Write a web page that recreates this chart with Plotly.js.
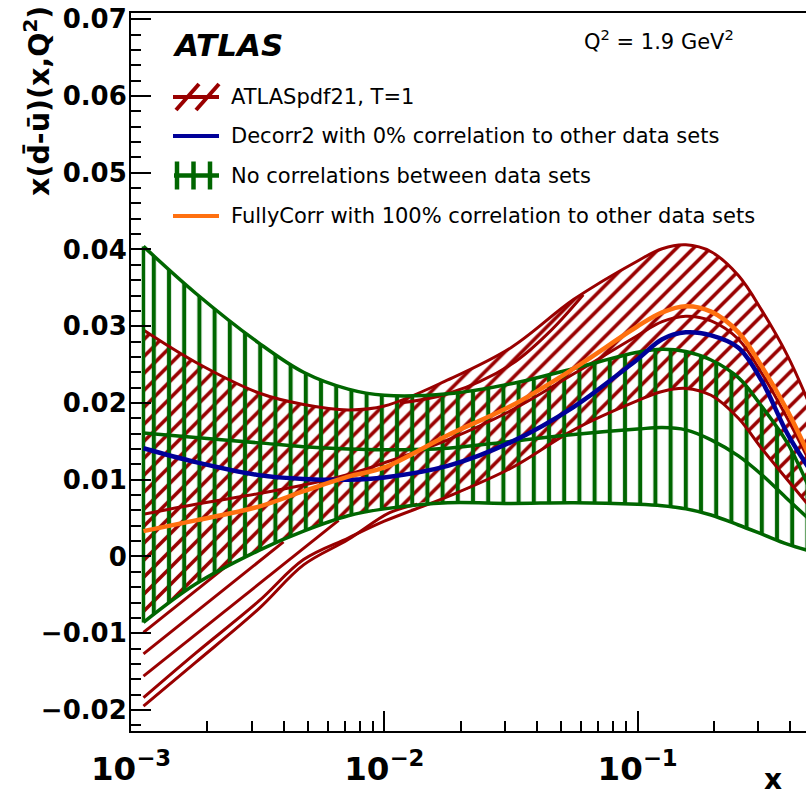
<!DOCTYPE html>
<html><head><meta charset="utf-8">
<script src="https://cdn.plot.ly/plotly-3.0.1.min.js"></script>
<style>html,body{margin:0;padding:0;background:#fff}</style>
</head><body><div id="chart" style="width:806px;height:800px"></div>
<script>
// ---------------- data ----------------
const X       = [0.00112, 0.0018, 0.0032, 0.0048, 0.0072, 0.01, 0.0178, 0.0316, 0.056, 0.1, 0.125, 0.155, 0.195, 0.25, 0.31, 0.39, 0.47];
// "No correlations between data sets" band (green)
const G_up    = [0.0404, 0.0343, 0.0278, 0.0240, 0.0218, 0.0210, 0.0212, 0.0225, 0.0245, 0.0266, 0.0270, 0.0267, 0.0256, 0.0233, 0.0195, 0.0148, 0.0093];
const G_mid   = [0.0161, 0.0155, 0.0148, 0.0143, 0.0140, 0.0139, 0.0141, 0.0150, 0.0159, 0.0166, 0.0168, 0.0165, 0.0152, 0.0131, 0.0106, 0.0075, 0.0050];
const G_low   = [-0.0086, -0.0036, 0.0008, 0.0033, 0.0053, 0.0062, 0.0070, 0.0069, 0.0070, 0.0068, 0.0066, 0.0062, 0.0054, 0.0041, 0.0029, 0.0016, 0.0008];
// Decorr2 (blue) and FullyCorr (orange)
const BLUE_Y  = [0.0141, 0.0123, 0.0106, 0.0101, 0.0100, 0.0103, 0.0118, 0.0149, 0.0195, 0.0257, 0.0283, 0.0292, 0.0288, 0.0272, 0.0228, 0.0160, 0.0117];
const ORANGE_Y= [0.0033, 0.0047, 0.0065, 0.0085, 0.0104, 0.0116, 0.0158, 0.0196, 0.0245, 0.0300, 0.0318, 0.0326, 0.0319, 0.0292, 0.0247, 0.0190, 0.0135];
// ATLASpdf21, T=1 (red)
const R_up    = [0.0295, 0.0253, 0.0213, 0.0198, 0.0191, 0.0196, 0.0230, 0.0272, 0.0335, 0.0385, 0.0401, 0.0406, 0.0397, 0.0366, 0.0320, 0.0262, 0.0203];
const R_mid   = [0.0055, 0.0068, 0.0082, 0.0093, 0.0107, 0.0122, 0.0152, 0.0190, 0.0238, 0.0288, 0.0306, 0.0313, 0.0307, 0.0283, 0.0238, 0.0180, 0.0128];
const R_low   = [-0.0184, -0.0126, -0.0058, -0.0004, 0.0024, 0.0046, 0.0078, 0.0115, 0.0165, 0.0203, 0.0215, 0.0219, 0.0210, 0.0180, 0.0140, 0.0100, 0.0068];
const R_up2_x = [0.0115, 0.0178, 0.0316, 0.045, 0.061];
const R_up2_y = [0.0200, 0.0212, 0.0250, 0.0293, 0.0341];
const R_low2_x= [0.00112, 0.0018, 0.0032, 0.0048, 0.0072, 0.0105, 0.0135];
const R_low2_y= [-0.0195, -0.0138, -0.0068, -0.0011, 0.0022, 0.0057, 0.0068];
const F1_x = [0.00112, 0.0025], F1_y = [-0.0099, -0.0007];
const F2_x = [0.00112, 0.0040], F2_y = [-0.0127, 0.0019];
const F3_x = [0.00112, 0.0066], F3_y = [-0.0156, 0.0047];

const LEGEND_TEXT = ['ATLASpdf21, T=1', 'Decorr2 with 0% correlation to other data sets',
                     'No correlations between data sets', 'FullyCorr with 100% correlation to other data sets'];
const X_TITLE = 'x';
const Y_TITLE = 'x(d\u0304-\u016B)(x,Q<sup>2</sup>)';

// ---------------- styles ----------------
const RED = '#990000', GREEN = '#006600', BLUE = '#000099', ORANGE = '#ff7010';
const FONT = 'DejaVu Sans';
const hatchLow = X.map((_, i) => Math.max(G_low[i], R_low[i]));

function ln(x, y, color, w) {
  return {x, y, type: 'scatter', mode: 'lines', line: {color, width: w, shape: 'spline', smoothing: 1},
          showlegend: false, hoverinfo: 'skip'};
}
const traces = [];
traces.push(ln(X, hatchLow, RED, 0));
traces.push(Object.assign(ln(X, R_up, RED, 0), {fill: 'tonexty', fillcolor: 'rgba(0,0,0,0)',
  fillpattern: {shape: '/', size: 12, solidity: 0.3, fgcolor: RED, bgcolor: 'rgba(0,0,0,0)'}}));
traces.push(ln(X, G_low, GREEN, 0));
traces.push(Object.assign(ln(X, G_up, GREEN, 0), {fill: 'tonexty', fillcolor: 'rgba(0,0,0,0)',
  fillpattern: {shape: '|', size: 15.2, solidity: 0.27, fgcolor: GREEN, bgcolor: 'rgba(0,0,0,0)'}}));
// red boundary lines
traces.push(ln(X, R_up, RED, 3));
traces.push(ln(R_up2_x, R_up2_y, RED, 3));
traces.push(ln(X, R_mid, RED, 3));
traces.push(ln(X, R_low, RED, 3));
traces.push(ln(R_low2_x, R_low2_y, RED, 3));
traces.push(ln(F1_x, F1_y, RED, 3));
traces.push(ln(F2_x, F2_y, RED, 3));
traces.push(ln(F3_x, F3_y, RED, 3));
// green lines
traces.push(ln(X, G_up, GREEN, 3.5));
traces.push(ln(X, G_mid, GREEN, 3.5));
traces.push(ln(X, G_low, GREEN, 3.5));
traces.push(ln([X[0], X[0]], [G_low[0], G_up[0]], GREEN, 3.5));
// central curves
traces.push(ln(X, BLUE_Y, BLUE, 4.5));
traces.push(ln(X, ORANGE_Y, ORANGE, 4.5));

// pixel -> paper helpers for annotation / legend placement
const L = 131, T = 13, W = 675, H = 718;
const px = v => (v - L) / W, py = v => (T + H - v) / H;

function seg(x0, y0, x1, y1, color, w) {
  return {type: 'line', xref: 'paper', yref: 'paper', x0: px(x0), y0: py(y0), x1: px(x1), y1: py(y1),
          line: {color, width: w}};
}
const rows = [97, 136, 175.5, 216];
const shapes = [
  seg(173, rows[0], 219, rows[0], RED, 4),
  seg(176, rows[0] + 13, 199, rows[0] - 13, RED, 4),
  seg(196, rows[0] + 13, 219, rows[0] - 13, RED, 4),
  seg(173, rows[1], 219, rows[1], BLUE, 4),
  seg(174, rows[2], 219, rows[2], GREEN, 4.5),
  seg(177, rows[2] - 14, 177, rows[2] + 14, GREEN, 4.5),
  seg(193.5, rows[2] - 14, 193.5, rows[2] + 14, GREEN, 4.5),
  seg(210, rows[2] - 14, 210, rows[2] + 14, GREEN, 4.5),
  seg(173, rows[3], 219, rows[3], ORANGE, 4)
];
const annotations = LEGEND_TEXT.map((t, i) => ({
  text: t, xref: 'paper', yref: 'paper', x: px(229), y: py(rows[i]), xanchor: 'left', yanchor: 'middle',
  showarrow: false, font: {family: FONT, size: 21, color: '#000'}
}));
annotations.push({text: 'ATLAS', xref: 'paper', yref: 'paper', x: px(170), y: py(45), xanchor: 'left', yanchor: 'middle',
  showarrow: false, font: {family: FONT, size: 31, color: '#000', weight: 'bold', style: 'italic'}});
annotations.push({text: 'Q<sup>2</sup> = 1.9 GeV<sup>2</sup>', xref: 'paper', yref: 'paper', x: px(582), y: py(40),
  xanchor: 'left', yanchor: 'middle', showarrow: false, font: {family: FONT, size: 21, color: '#000'}});
annotations.push({text: X_TITLE, xref: 'paper', yref: 'paper', x: px(784), y: py(798), xanchor: 'right', yanchor: 'bottom',
  showarrow: false, font: {family: FONT, size: 28, color: '#000', weight: 'bold'}});
annotations.push({text: Y_TITLE, xref: 'paper', yref: 'paper', x: px(37), y: py(4), xanchor: 'center', yanchor: 'top',
  textangle: -90, showarrow: false, font: {family: FONT, size: 28.5, color: '#000', weight: 'bold'}});

const tickfont = {family: FONT, size: 26, color: '#000', weight: 'bold'};
const layout = {
  width: 806, height: 800,
  margin: {l: L, r: 0, t: T, b: 800 - T - H, pad: 0},
  paper_bgcolor: '#fff', plot_bgcolor: '#fff',
  showlegend: false,
  xaxis: {type: 'log', range: [-3, -0.3353], dtick: 1, exponentformat: 'power',
    showgrid: false, zeroline: false, showline: true, linecolor: '#000', linewidth: 2, mirror: true,
    ticks: 'inside', ticklen: 20, tickwidth: 2, tickcolor: '#000', tickfont, ticklabelstandoff: 9,
    minor: {dtick: 'D1', ticks: 'inside', ticklen: 10, tickwidth: 2, tickcolor: '#000', showgrid: false}},
  yaxis: {range: [-0.02274, 0.07081], dtick: 0.01, tickformat: '',
    showgrid: false, zeroline: false, showline: true, linecolor: '#000', linewidth: 2, mirror: false,
    ticks: 'inside', ticklen: 20, tickwidth: 2, tickcolor: '#000', tickfont, ticklabelstandoff: -3,
    minor: {dtick: 0.002, ticks: 'inside', ticklen: 10, tickwidth: 2, tickcolor: '#000', showgrid: false}},
  shapes, annotations
};
Plotly.newPlot('chart', traces, layout, {staticPlot: true, displayModeBar: false});
</script></body></html>
